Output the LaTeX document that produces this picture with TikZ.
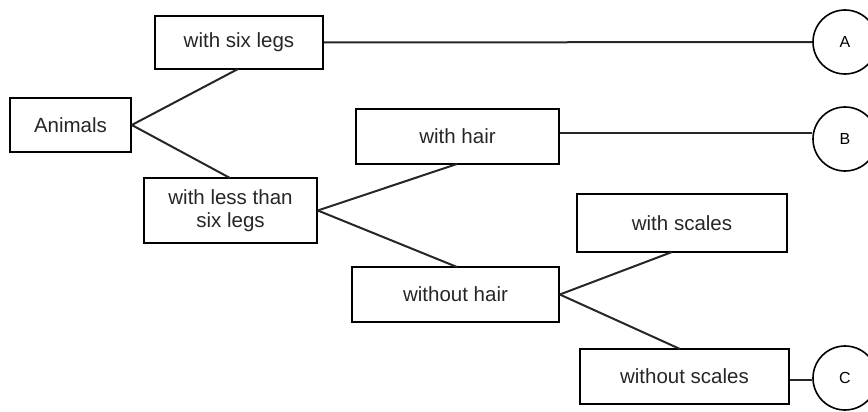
\documentclass[tikz,border=0pt]{standalone}
\usepackage{fontspec}
\setmainfont{Liberation Sans}
\begin{document}
\begin{tikzpicture}[x=1pt,y=-1pt,
  box/.style={draw,line width=1.6pt,inner sep=0pt,align=center,font=\fontsize{20.5}{23}\selectfont,text=black!85},
  leaf/.style={draw,circle,line width=1.6pt,minimum size=64pt,inner sep=0pt,font=\fontsize{16}{18}\selectfont},
  link/.style={line width=2pt,black!85}]
\useasboundingbox (0,0) rectangle (868,412);
\node[box,minimum width=168pt,minimum height=53pt] (six) at (239,42.5) {with six legs};
\node[box,minimum width=121pt,minimum height=54pt] (animals) at (70.5,125) {Animals};
\node[box,minimum width=173pt,minimum height=65pt] (less) at (230.5,210.5) {with less than\\six legs};
\node[box,minimum width=203pt,minimum height=55pt] (hair) at (457.5,136.5) {with hair};
\node[box,minimum width=207pt,minimum height=55pt] (nohair) at (455.5,294.5) {without hair};
\node[box,minimum width=210pt,minimum height=58pt] (scales) at (682,223) {with scales};
\node[box,minimum width=209pt,minimum height=55pt] (noscales) at (684.5,376.5) {without scales};
\node[leaf] (A) at (845,42) {A};
\node[leaf] (B) at (845,139) {B};
\node[leaf] (C) at (845,378) {C};
\draw[link] (animals.east) -- (238,69);
\draw[link] (animals.east) -- (230,178);
\draw[link] (less.east) -- (457,164);
\draw[link] (less.east) -- (457,267);
\draw[link] (nohair.east) -- (672,252);
\draw[link] (nohair.east) -- (680,349);
\draw[link] (six.east) -- (A.west);
\draw[link] (hair.east |- 0,133) -- (B.west |- 0,133);
\draw[link] (noscales.east |- 0,380) -- (C.west |- 0,380);
\end{tikzpicture}
\end{document}
